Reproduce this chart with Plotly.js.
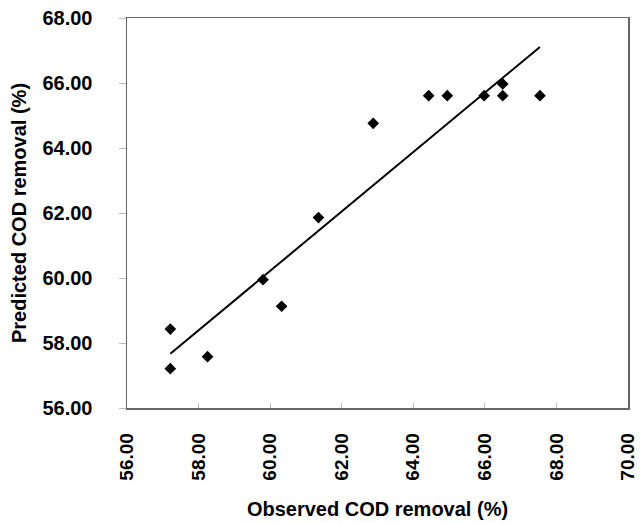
<!DOCTYPE html>
<html>
<head>
<meta charset="utf-8">
<script src="https://cdn.plot.ly/plotly-3.0.1.min.js"></script>
<style>html,body{margin:0;padding:0;background:#fff;}#chart{width:640px;height:523px;}</style>
</head>
<body>
<div id="chart"></div>
<script>
const observed = [57.21, 57.21, 58.25, 59.80, 60.32, 61.35, 62.88, 64.43, 64.95, 65.98, 66.50, 66.50, 67.54];
const predicted = [58.43, 57.21, 57.58, 59.95, 59.13, 61.86, 64.76, 65.61, 65.61, 65.61, 65.97, 65.61, 65.61];
const trendX = [57.21, 67.54];
const trendY = [57.67, 67.11];
const xTicks = [56, 58, 60, 62, 64, 66, 68, 70];
const yTicks = [56, 58, 60, 62, 64, 66, 68];
const xTickText = ['56.00', '58.00', '60.00', '62.00', '64.00', '66.00', '68.00', '70.00'];
const yTickText = ['56.00', '58.00', '60.00', '62.00', '64.00', '66.00', '68.00'];

const font = 'Liberation Sans';
const bold = t => '<b>' + t + '</b>';
const data = [
  {x: trendX, y: trendY, type: 'scatter', mode: 'lines',
   line: {color: '#000', width: 2}, hoverinfo: 'skip'},
  {x: observed, y: predicted, type: 'scatter', mode: 'markers',
   marker: {symbol: 'diamond', size: 9, color: '#000'}}
];
const layout = {
  width: 640, height: 523,
  margin: {l: 127, r: 12, t: 18, b: 115},
  showlegend: false,
  paper_bgcolor: '#fff', plot_bgcolor: '#fff',
  font: {family: font, color: '#000'},
  xaxis: {
    range: [55.999, 70.001], tickmode: 'array', tickvals: xTicks, ticktext: xTickText.map(bold),
    tickangle: -90, ticks: 'inside', ticklen: 5, tickcolor: '#bbb',
    ticklabeloverflow: 'allow',
    showgrid: false, zeroline: false,
    showline: true, linecolor: '#666', linewidth: 1.5, mirror: true,
    tickfont: {family: font, size: 19, color: '#000'},
    ticklabelstandoff: 16,
    title: {text: bold('Observed COD removal (%)'), font: {family: font, size: 20, color: '#000'}, standoff: 22}
  },
  yaxis: {
    range: [56, 68], tickmode: 'array', tickvals: yTicks, ticktext: yTickText.map(bold),
    ticks: 'outside', ticklen: 7, tickcolor: '#bbb',
    ticklabeloverflow: 'allow',
    showgrid: false, zeroline: false,
    showline: true, linecolor: '#666', linewidth: 1.5, mirror: true,
    tickfont: {family: font, size: 20, color: '#000'},
    ticklabelstandoff: 22,
    title: {text: bold('Predicted COD removal (%)'), font: {family: font, size: 20, color: '#000'}, standoff: 10}
  }
};
Plotly.newPlot('chart', data, layout, {displayModeBar: false, staticPlot: true});
</script>
</body>
</html>
